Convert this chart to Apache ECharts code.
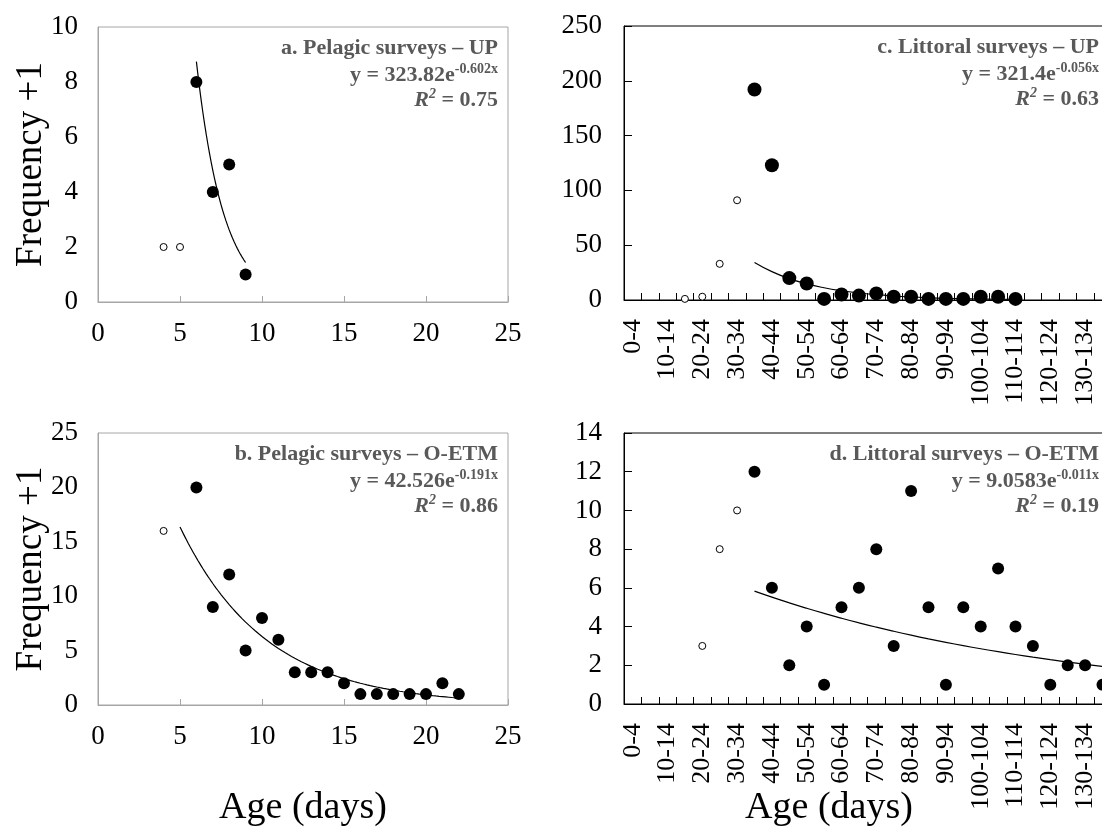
<!DOCTYPE html>
<html>
<head>
<meta charset="utf-8">
<script src="https://cdn.jsdelivr.net/npm/echarts@6/dist/echarts.min.js"></script>
<style>
html,body{margin:0;padding:0;background:#fff;}
#chart{width:1102px;height:828px;}
</style>
</head>
<body>
<div id="chart"></div>
<script>
// ---------- DATA ----------
const pelagicAxisTicks = [0, 5, 10, 15, 20, 25];
const ageBins = ['0-4','5-9','10-14','15-19','20-24','25-29','30-34','35-39','40-44','45-49',
  '50-54','55-59','60-64','65-69','70-74','75-79','80-84','85-89','90-94','95-99',
  '100-104','105-109','110-114','115-119','120-124','125-129','130-134','135-139','140-144','145-149'];

// a. Pelagic surveys - UP
const aOpenAge = [4, 5];
const aOpenFreq = [2, 2];
const aFilledAge = [6, 7, 8, 9];
const aFilledFreq = [8, 4, 5, 1];

// b. Pelagic surveys - O-ETM
const bOpenAge = [4];
const bOpenFreq = [16];
const bFilledAge = [6, 7, 8, 9, 10, 11, 12, 13, 14, 15, 16, 17, 18, 19, 20, 21, 22];
const bFilledFreq = [20, 9, 12, 5, 8, 6, 3, 3, 3, 2, 1, 1, 1, 1, 1, 2, 1];

// c. Littoral surveys - UP
const cOpenBins = ['15-19', '20-24', '25-29', '30-34'];
const cOpenFreq = [1, 3, 33, 91];
const cFilledBins = ['35-39','40-44','45-49','50-54','55-59','60-64','65-69','70-74',
  '75-79','80-84','85-89','90-94','95-99','100-104','105-109','110-114'];
const cFilledFreq = [192, 123, 20, 15, 1, 5, 4, 6, 3, 3, 1, 1, 1, 3, 3, 1];

// d. Littoral surveys - O-ETM
const dOpenBins = ['20-24', '25-29', '30-34'];
const dOpenFreq = [3, 8, 10];
const dFilledBins = ['35-39','40-44','45-49','50-54','55-59','60-64','65-69','70-74',
  '75-79','80-84','85-89','90-94','95-99','100-104','105-109','110-114','115-119',
  '120-124','125-129','130-134','135-139'];
const dFilledFreq = [12, 6, 2, 4, 1, 5, 6, 8, 3, 11, 5, 1, 5, 4, 7, 4, 3, 1, 2, 2, 1];

// exponential fits printed on the chart: y = A * e^(k x)
const fitA = [323.82, 42.526, 321.4, 9.0583];
const fitK = [-0.602, -0.191, -0.056, -0.011];
const fitFrom = [6, 5, 40, 40];
const fitTo = [9, 22, 115, 150];

const panelTitles = ['a. Pelagic surveys – UP', 'b. Pelagic surveys – O-ETM',
  'c. Littoral surveys – UP', 'd. Littoral surveys – O-ETM'];
const fitCoefText = ['323.82', '42.526', '321.4', '9.0583'];
const fitExpText = ['-0.602x', '-0.191x', '-0.056x', '-0.011x'];
const r2Text = ['0.75', '0.86', '0.63', '0.19'];

// ---------- BUILD ----------
const FONT = '"Liberation Serif","Times New Roman",serif';
const GRAY_BOX = '#a6a6a6';
const TXT_GRAY = '#595959';

function pairs(xs, ys) { return xs.map((x, i) => [x, ys[i]]); }
function fitValue(p, x) { return fitA[p] * Math.exp(fitK[p] * x); }
function fitCurveValue(p) {
  const pts = [];
  for (let x = fitFrom[p]; x <= fitTo[p] + 1e-9; x += 0.1) pts.push([+x.toFixed(2), fitValue(p, x)]);
  return pts;
}
function fitCurveCat(p) {
  // category bin i has age x = 5*(i+1) in the fitted equation
  return ageBins.map((b, i) => {
    const x = 5 * (i + 1);
    return (x >= fitFrom[p] && x <= fitTo[p]) ? fitValue(p, x) : null;
  });
}

const grids = [
  {left: 98, top: 27, width: 410, height: 275},
  {left: 98, top: 433, width: 410, height: 272},
  {left: 624, top: 26, width: 522, height: 274},
  {left: 624, top: 433, width: 522, height: 271}
].map((g, i) => Object.assign(g, {
  show: true, borderColor: i < 2 ? GRAY_BOX : '#000', borderWidth: 1,
  containLabel: false, outerBoundsMode: 'none'
}));

const labelStyle = {fontFamily: FONT, fontSize: 27, color: '#000'};

function valueX(gi) {
  return {
    type: 'value', gridIndex: gi, min: 0, max: 25, interval: 5,
    axisLine: {show: true, lineStyle: {color: GRAY_BOX, width: 1}},
    axisTick: {show: true, inside: true, length: 6, lineStyle: {color: GRAY_BOX}},
    axisLabel: Object.assign({margin: 18}, labelStyle),
    splitLine: {show: false}
  };
}
function catX(gi) {
  return {
    type: 'category', gridIndex: gi, data: ageBins, boundaryGap: true,
    axisLine: {show: true, lineStyle: {color: '#000', width: 1}},
    axisTick: {show: true, inside: true, length: 7, interval: 0, lineStyle: {color: '#000'}},
    axisLabel: {margin: 19, rotate: 90, interval: 1, fontSize: 26, fontFamily: FONT, color: '#000'},
    splitLine: {show: false}
  };
}
function valueY(gi, max, interval, black) {
  return {
    type: 'value', gridIndex: gi, min: 0, max: max, interval: interval,
    axisLine: {show: true, lineStyle: {color: black ? '#000' : GRAY_BOX, width: 1}},
    axisTick: {show: black, inside: true, length: 8, lineStyle: {color: '#000'}},
    axisLabel: Object.assign({margin: black ? 22 : 20}, labelStyle),
    splitLine: {show: false}
  };
}

const openStyle = {color: '#fff', borderColor: '#000', borderWidth: 1, opacity: 1};
const fillStyle = {color: '#000', opacity: 1};

function scatter(gi, data, open, size) {
  return {
    type: 'scatter', xAxisIndex: gi, yAxisIndex: gi, data: data,
    symbol: 'circle', symbolSize: open ? 7 : size,
    itemStyle: open ? openStyle : fillStyle, z: 5, silent: true
  };
}
function fitLine(gi, data) {
  return {
    type: 'line', xAxisIndex: gi, yAxisIndex: gi, data: data, showSymbol: false,
    smooth: gi >= 2, connectNulls: false, lineStyle: {color: '#000', width: 1.2}, z: 4, silent: true
  };
}

const series = [
  fitLine(0, fitCurveValue(0)),
  scatter(0, pairs(aOpenAge, aOpenFreq), true),
  scatter(0, pairs(aFilledAge, aFilledFreq), false, 12),
  fitLine(1, fitCurveValue(1)),
  scatter(1, pairs(bOpenAge, bOpenFreq), true),
  scatter(1, pairs(bFilledAge, bFilledFreq), false, 12),
  fitLine(2, fitCurveCat(2)),
  scatter(2, pairs(cOpenBins, cOpenFreq), true),
  scatter(2, pairs(cFilledBins, cFilledFreq), false, 14),
  fitLine(3, fitCurveCat(3)),
  scatter(3, pairs(dOpenBins, dOpenFreq), true),
  scatter(3, pairs(dFilledBins, dFilledFreq), false, 12)
];

// annotation texts
const rich = {
  t: {fontFamily: FONT, fontSize: 22, fontWeight: 'bold', fill: TXT_GRAY, lineHeight: 24, verticalAlign: 'bottom'},
  s: {fontFamily: FONT, fontSize: 14, fontWeight: 'bold', fill: TXT_GRAY, lineHeight: 14, verticalAlign: 'top'},
  it: {fontFamily: FONT, fontSize: 22, fontWeight: 'bold', fontStyle: 'italic', fill: TXT_GRAY, lineHeight: 24, verticalAlign: 'bottom'},
  sit: {fontFamily: FONT, fontSize: 14, fontWeight: 'bold', fontStyle: 'italic', fill: TXT_GRAY, lineHeight: 14, verticalAlign: 'top'}
};
const textRight = [498, 498, 1099, 1099];
const textTop = [27, 433, 26, 433];
const graphics = [];
for (let p = 0; p < 4; p++) {
  const lines = [
    '{t|' + panelTitles[p] + '}',
    '{t|y = ' + fitCoefText[p] + 'e}{s|' + fitExpText[p] + '}',
    '{it|R}{sit|2}{t| = ' + r2Text[p] + '}'
  ];
  const offs = [20, 47, 72];
  lines.forEach((txt, li) => {
    graphics.push({
      type: 'text', x: textRight[p], y: textTop[p] + offs[li], silent: true, z: 10,
      style: {text: txt, rich: rich, align: 'right', verticalAlign: 'middle',
        fontFamily: FONT, fontSize: 22, fill: TXT_GRAY}
    });
  });
}
// axis names
[[31, 164.5], [31, 569]].forEach(([x, y]) => graphics.push({
  type: 'text', x: x, y: y, rotation: Math.PI / 2, silent: true,
  style: {text: 'Frequency +1', fontFamily: FONT, fontSize: 37, fill: '#000', align: 'center', verticalAlign: 'middle'}
}));
[[303, 808], [829, 808]].forEach(([x, y]) => graphics.push({
  type: 'text', x: x, y: y, silent: true,
  style: {text: 'Age (days)', fontFamily: FONT, fontSize: 38, fill: '#000', align: 'center', verticalAlign: 'middle'}
}));

const chart = echarts.init(document.getElementById('chart'), null, {renderer: 'canvas'});
chart.setOption({
  animation: false,
  backgroundColor: '#fff',
  grid: grids,
  xAxis: [valueX(0), valueX(1), catX(2), catX(3)],
  yAxis: [valueY(0, 10, 2, false), valueY(1, 25, 5, false), valueY(2, 250, 50, true), valueY(3, 14, 2, true)],
  series: series,
  graphic: graphics
});
</script>
</body>
</html>
